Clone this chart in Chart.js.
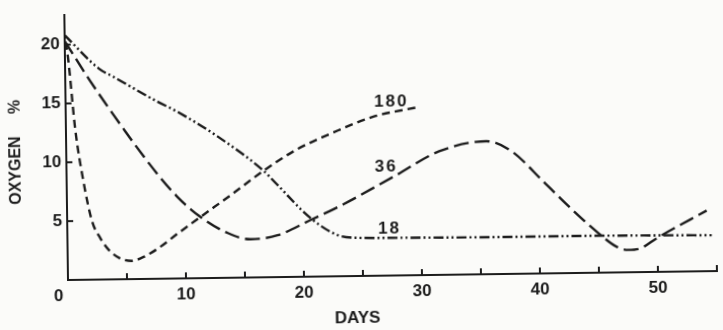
<!DOCTYPE html>
<html>
<head>
<meta charset="utf-8">
<script src="https://cdn.jsdelivr.net/npm/chart.js@4.4.0/dist/chart.umd.min.js"></script>
<style>
    html, body { margin: 0; padding: 0; background: #fbfbf9; overflow: hidden; }
    #wrap { width: 723px; height: 330px; }
    /* the scanned figure is tilted slightly, right side higher */
    #oxygenChart { transform: rotate(-0.79deg); transform-origin: 68px 280px; }
</style>
</head>
<body>
<div id="wrap"><canvas id="oxygenChart" width="723" height="330"></canvas></div>
<script>
// days vs oxygen %
const days180 = [0, 0.2, 0.8, 1.4, 2.1, 2.8, 3.5, 4.4, 5.4, 6.5, 7.7, 9.4, 11.3, 14, 16.7, 19.5, 22.6, 26, 30];
const oxygen180 = [20.2, 19.4, 12.7, 8.5, 5.0, 3.5, 2.5, 1.8, 1.55, 1.9, 2.6, 3.85, 5.2, 7.1, 9.05, 10.8, 12.2, 13.5, 14.3];

const days36 = [0, 2.1, 5, 7.7, 9.4, 11.3, 13.6, 15.5, 17.8, 20.6, 22.9, 27.9, 31.6, 35.6, 37.7, 40.5, 43, 45.3, 46.5, 47.5, 48.5, 50, 54.2];
const oxygen36 = [20.3, 16.9, 12.6, 8.9, 6.9, 5.2, 3.8, 3.25, 3.55, 4.8, 5.85, 8.5, 10.5, 11.3, 10.45, 7.7, 5.2, 3.1, 2.2, 1.9, 2.0, 2.9, 5.15];

const days18 = [0, 2.9, 4.1, 7.7, 9.4, 12.8, 16.7, 17.8, 20.6, 22.9, 24.5, 28, 35, 42, 50, 54.6];
const oxygen18 = [20.8, 17.9, 17.2, 15.1, 14.2, 12.05, 9.05, 7.9, 5.0, 3.5, 3.25, 3.2, 3.15, 3.15, 3.1, 3.05];

const seriesNames = ['180', '36', '18'];
const xTicks = [0, 10, 20, 30, 40, 50];
const yTicks = [5, 10, 15, 20];

const ink = '#1c1c1c';
const fontFamily = '"Liberation Sans", Arial, sans-serif';

// where the curve numbers sit, in data units
const curveLabels = [
    { text: seriesNames[0], day: 27.6, value: 14.8 },
    { text: seriesNames[1], day: 27.1, value: 9.2 },
    { text: seriesNames[2], day: 27.3, value: 4.0 },
];

function toPoints(xs, ys) {
    return xs.map((x, i) => ({ x: x, y: ys[i] }));
}

function lineSet(label, xs, ys, dash) {
    return {
        label: label,
        data: toPoints(xs, ys),
        borderColor: ink,
        borderWidth: 2.4,
        borderDash: dash,
        pointRadius: 0,
        fill: false,
        cubicInterpolationMode: 'monotone',
    };
}

// inward tick marks, curve numbers and axis titles
const figureDecor = {
    id: 'figureDecor',
    afterDraw(chart) {
        const ctx = chart.ctx;
        const xScale = chart.scales.x;
        const yScale = chart.scales.y;
        const area = chart.chartArea;
        ctx.save();
        ctx.strokeStyle = ink;
        ctx.lineWidth = 2;
        xScale.ticks.forEach(t => {
            if (t.value <= 0 || t.value % 5 !== 0) return;
            const px = xScale.getPixelForValue(t.value);
            ctx.beginPath();
            ctx.moveTo(px, area.bottom);
            ctx.lineTo(px, area.bottom - 6);
            ctx.stroke();
        });
        yScale.ticks.forEach(t => {
            if (!yTicks.includes(t.value)) return;
            const py = yScale.getPixelForValue(t.value);
            ctx.beginPath();
            ctx.moveTo(area.left, py);
            ctx.lineTo(area.left + 6, py);
            ctx.stroke();
        });

        ctx.fillStyle = ink;
        ctx.textAlign = 'center';
        ctx.textBaseline = 'middle';
        ctx.font = 'bold 17px ' + fontFamily;
        ctx.letterSpacing = '2px';
        curveLabels.forEach(l => {
            ctx.fillText(l.text, xScale.getPixelForValue(l.day), yScale.getPixelForValue(l.value));
        });
        ctx.letterSpacing = '0px';

        ctx.font = 'bold 17px ' + fontFamily;
        ctx.fillText('DAYS', xScale.getPixelForValue(24.5), area.bottom + 42);

        ctx.translate(18, (area.top + area.bottom) / 2 + 4);
        ctx.rotate(-Math.PI / 2);
        ctx.font = 'bold 16px ' + fontFamily;
        ctx.fillText('OXYGEN     %', 0, 0);
        ctx.restore();
    }
};

const ctx = document.getElementById('oxygenChart').getContext('2d');
const oxygenChart = new Chart(ctx, {
    type: 'line',
    data: {
        datasets: [
            lineSet(seriesNames[0], days180, oxygen180, [8, 5]),
            lineSet(seriesNames[1], days36, oxygen36, [15, 6]),
            lineSet(seriesNames[2], days18, oxygen18, [10, 3, 2, 3, 2, 3]),
        ],
    },
    options: {
        responsive: false,
        animation: false,
        layout: { padding: { top: 13, right: 1, left: 0, bottom: 0 } },
        plugins: {
            legend: { display: false },
            tooltip: { enabled: false },
        },
        scales: {
            x: {
                type: 'linear',
                min: 0,
                max: 55,
                afterFit: scale => { scale.height = 50; },
                grid: { display: false, drawTicks: false },
                border: { display: true, color: ink, width: 2 },
                ticks: {
                    stepSize: 5,
                    autoSkip: false,
                    maxRotation: 0,
                    padding: 6,
                    color: ink,
                    font: { family: fontFamily, size: 17, weight: 'bold' },
                    callback: v => {
                        if (!xTicks.includes(v)) return '';
                        return v === 0 ? '0    ' : String(v);
                    },
                },
            },
            y: {
                type: 'linear',
                min: 0,
                max: 22.5,
                afterFit: scale => { scale.width = 68; },
                grid: { display: false, drawTicks: false },
                border: { display: true, color: ink, width: 2 },
                ticks: {
                    stepSize: 5,
                    padding: 5,
                    color: ink,
                    font: { family: fontFamily, size: 17, weight: 'bold' },
                    callback: v => (yTicks.includes(v) ? String(v) : ''),
                },
            },
        },
    },
    plugins: [figureDecor],
});
</script>
</body>
</html>
